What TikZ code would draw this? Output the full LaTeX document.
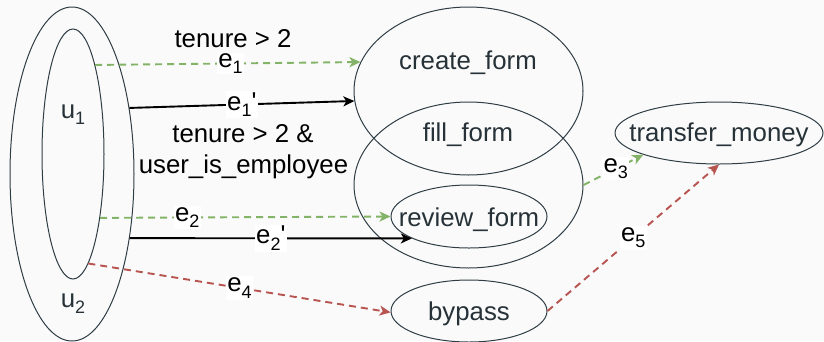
\documentclass[tikz,border=0pt]{standalone}
\usepackage{fontspec}
\setmainfont{Liberation Sans}
\newfontfamily\rawfont{Liberation Sans}[Ligatures=TeXOff]
\usetikzlibrary{shapes.geometric,arrows.meta}
\definecolor{bg}{HTML}{FAFAFA}
\definecolor{ink}{HTML}{263238}
\definecolor{strk}{HTML}{2F3D45}
\definecolor{grn}{HTML}{82B366}
\definecolor{rd}{HTML}{B85450}
\newcommand{\bigfont}{\fontsize{25.8}{31}\selectfont}
\newcommand{\sbs}[1]{\raisebox{-6.5pt}{\fontsize{18}{20}\selectfont #1}}
\newcommand{\apos}{{\rawfont '}}
\begin{document}
\begin{tikzpicture}[x=1pt,y=-1pt,
  oval/.style={ellipse, draw=strk, line width=1pt, inner sep=0pt},
  txt/.style={text=ink, anchor=base, inner sep=0pt, font=\bigfont},
  cond/.style={text=black, anchor=base, inner sep=0pt, font=\bigfont},
  lbl/.style={fill=white, text=black, inner sep=1.5pt, font=\bigfont},
  tip/.style={-{Stealth[length=11pt,width=10pt,inset=3pt]}},
  blackedge/.style={tip, draw=black, line width=1.9pt},
  greenedge/.style={tip, draw=grn, line width=1.9pt, dash pattern=on 7pt off 5pt},
  rededge/.style={tip, draw=rd, line width=1.9pt, dash pattern=on 7pt off 5pt}
]
\fill[bg] (0,0) rectangle (824,341);
\useasboundingbox (0,0) rectangle (824,341);

% ellipses
\node[oval, minimum width=124pt, minimum height=334pt] (u2) at (72,174) {};
\node[oval, minimum width=62pt, minimum height=250pt] (u1) at (73,154) {};
\node[oval, minimum width=229pt, minimum height=168pt] (cf) at (468.5,91) {};
\node[oval, minimum width=229pt, minimum height=166pt] (ff) at (468.5,185) {};
\node[oval, minimum width=156pt, minimum height=63pt] (rf) at (469,216.5) {};
\node[oval, minimum width=156pt, minimum height=62pt] (bp) at (469,311) {};
\node[oval, minimum width=208pt, minimum height=62pt] (tm) at (719,133) {};

% texts in ellipses
\node[txt] (u1t) at (73,118) {u\sbs{1}};
\node[txt] (u2t) at (73,307) {u\sbs{2}};
\node[txt] (cft) at (468,69) {create\_form};
\node[txt] (fft) at (468,141) {fill\_form};
\node[txt] (rft) at (469,226) {review\_form};
\node[txt] (bpt) at (469,320) {bypass};
\node[txt] (tmt) at (719,141) {transfer\_money};

% conditions
\node[cond] (c1) at (233,47) {tenure > 2};
\node[cond] (c2a) at (243,142) {tenure > 2 \&};
\node[cond] (c2b) at (243.5,173) {user\_is\_employee};

% edges
\draw[greenedge] (u1.76.6) -- node[lbl, pos=0.51, inner ysep=0pt] (l1) {e\sbs{1}} (cf.165.8);
\draw[blackedge] (u2.49.1) -- node[lbl, pos=0.5] (l1p) {e\sbs{1}\apos} (cf.185.1);
\draw[greenedge] (u1.-67.1) -- node[lbl, pos=0.3] (l2) {e\sbs{2}} (rf.180);
\draw[blackedge] (u2.-48.3) -- node[lbl, pos=0.5] (l2p) {e\sbs{2}\apos} (rf.201.9);
\draw[rededge] (u1.-82.9) -- node[lbl, pos=0.5] (l4) {e\sbs{4}} (bp.181.4);
\draw[greenedge] (ff.0) -- node[lbl, pos=0.54] (l3) {e\sbs{3}} (tm.196.3);
\draw[rededge] (bp.0) -- node[lbl, pos=0.5] (l5) {e\sbs{5}} (tm.-90);
\end{tikzpicture}
\end{document}
